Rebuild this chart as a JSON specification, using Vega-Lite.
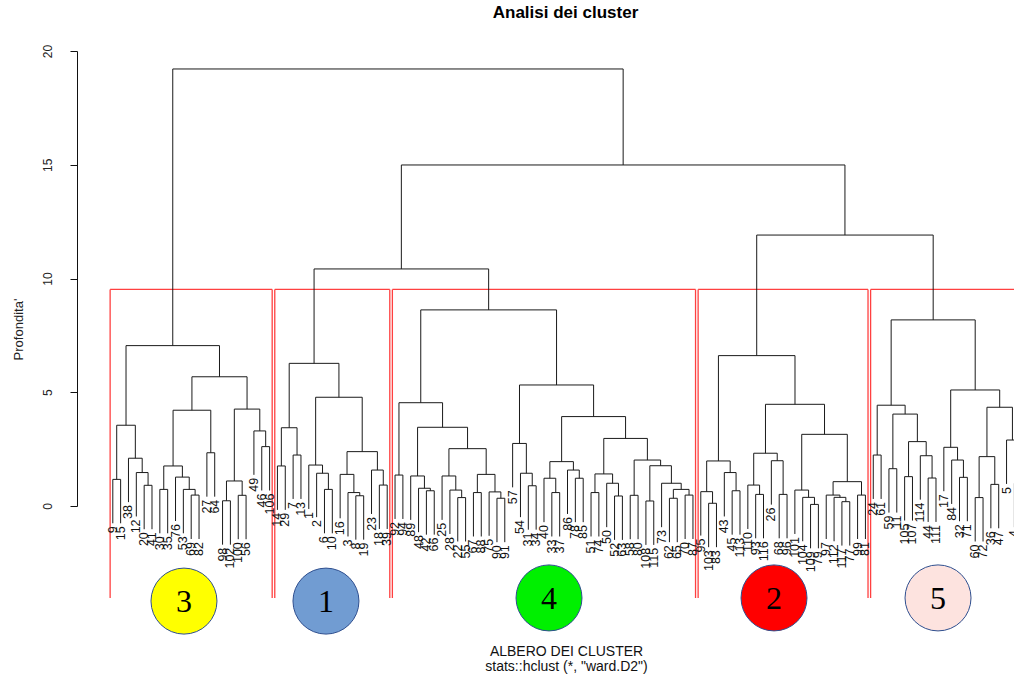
{
  "$schema": "https://vega.github.io/schema/vega-lite/v6.json",
  "width": 937,
  "height": 455,
  "autosize": {"type": "none"},
  "padding": {"left": 77, "top": 51, "right": 0, "bottom": 169},
  "background": "white",
  "title": {"text": "Analisi dei cluster", "font": "Liberation Sans", "fontSize": 17, "fontWeight": "bold", "color": "black", "anchor": "middle", "dx": 20, "offset": 22},
  "config": {
    "view": {"stroke": null},
    "axisX": {"domain": false, "ticks": false, "labels": false, "grid": false, "titleFont": "Liberation Sans", "titleFontSize": 14, "titleFontWeight": "normal", "titleColor": "#111", "titleX": 489, "titleY": 138, "titleBaseline": "top", "titleAlign": "center", "titleLineHeight": 15},
    "axisY": {"grid": false, "tickCount": 5, "domainColor": "#111", "tickColor": "#111", "tickSize": 7, "domainWidth": 1, "tickWidth": 1, "labelAngle": 270, "labelAlign": "center", "labelBaseline": "bottom", "labelPadding": 16, "labelFont": "Liberation Sans", "labelFontSize": 12, "labelColor": "#222", "labelFlush": false, "labelOverlap": false, "titleFont": "Liberation Sans", "titleFontSize": 13, "titleFontWeight": "normal", "titleColor": "#222", "titleAngle": 270, "titleX": -59, "titleY": 278, "titleAlign": "center", "titleBaseline": "middle"}
  },
  "datasets": {
    "merges": [
      {"lx":1,"lh":-0.76,"rx":2,"rh":-0.76,"h":1.17},
      {"lx":5,"lh":-1.02,"rx":6,"rh":-1.02,"h":0.91},
      {"lx":4,"lh":-0.46,"rx":5.5,"rh":0.91,"h":1.47},
      {"lx":3,"lh":0.17,"rx":4.75,"rh":1.47,"h":2.10},
      {"lx":1.5,"lh":1.17,"rx":3.875,"rh":2.10,"h":3.55},
      {"lx":7,"lh":-1.20,"rx":8,"rh":-1.20,"h":0.73},
      {"lx":11,"lh":-1.45,"rx":12,"rh":-1.45,"h":0.48},
      {"lx":10,"lh":-1.20,"rx":11.5,"rh":0.48,"h":0.73},
      {"lx":9,"lh":-0.66,"rx":10.75,"rh":0.73,"h":1.27},
      {"lx":7.5,"lh":0.73,"rx":9.875,"rh":1.27,"h":1.76},
      {"lx":13,"lh":0.41,"rx":14,"rh":0.41,"h":2.34},
      {"lx":8.6875,"lh":1.76,"rx":13.5,"rh":2.34,"h":4.21},
      {"lx":15,"lh":-1.70,"rx":16,"rh":-1.70,"h":0.23},
      {"lx":17,"lh":-1.46,"rx":18,"rh":-1.46,"h":0.47},
      {"lx":15.5,"lh":0.23,"rx":17.5,"rh":0.47,"h":1.10},
      {"lx":20,"lh":0.68,"rx":21,"rh":0.68,"h":2.61},
      {"lx":19,"lh":1.37,"rx":20.5,"rh":2.61,"h":3.30},
      {"lx":16.5,"lh":1.10,"rx":19.75,"rh":3.30,"h":4.26},
      {"lx":11.094,"lh":4.21,"rx":18.125,"rh":4.26,"h":5.68},
      {"lx":2.688,"lh":3.55,"rx":14.609,"rh":5.68,"h":7.05},
      {"lx":22,"lh":-0.17,"rx":23,"rh":-0.17,"h":1.76},
      {"lx":24,"lh":0.31,"rx":25,"rh":0.31,"h":2.24},
      {"lx":22.5,"lh":1.76,"rx":24.5,"rh":2.24,"h":3.44},
      {"lx":28,"lh":-1.20,"rx":29,"rh":-1.20,"h":0.73},
      {"lx":27,"lh":-0.49,"rx":28.5,"rh":0.73,"h":1.44},
      {"lx":26,"lh":-0.13,"rx":27.75,"rh":1.44,"h":1.80},
      {"lx":32,"lh":-1.48,"rx":33,"rh":-1.48,"h":0.45},
      {"lx":31,"lh":-1.34,"rx":32.5,"rh":0.45,"h":0.59},
      {"lx":30,"lh":-0.54,"rx":31.75,"rh":0.59,"h":1.39},
      {"lx":35,"lh":-1.01,"rx":36,"rh":-1.01,"h":0.92},
      {"lx":34,"lh":-0.35,"rx":35.5,"rh":0.92,"h":1.58},
      {"lx":30.875,"lh":1.39,"rx":34.75,"rh":1.58,"h":2.39},
      {"lx":26.875,"lh":1.80,"rx":32.813,"rh":2.39,"h":4.78},
      {"lx":23.5,"lh":3.44,"rx":29.844,"rh":4.78,"h":6.27},
      {"lx":37,"lh":-0.57,"rx":38,"rh":-0.57,"h":1.36},
      {"lx":41,"lh":-1.26,"rx":42,"rh":-1.26,"h":0.67},
      {"lx":40,"lh":-1.15,"rx":41.5,"rh":0.67,"h":0.78},
      {"lx":39,"lh":-0.61,"rx":40.75,"rh":0.78,"h":1.32},
      {"lx":45,"lh":-1.56,"rx":46,"rh":-1.56,"h":0.37},
      {"lx":44,"lh":-1.23,"rx":45.5,"rh":0.37,"h":0.70},
      {"lx":43,"lh":-0.61,"rx":44.75,"rh":0.70,"h":1.32},
      {"lx":47,"lh":-1.34,"rx":48,"rh":-1.34,"h":0.59},
      {"lx":50,"lh":-1.59,"rx":51,"rh":-1.59,"h":0.34},
      {"lx":49,"lh":-1.31,"rx":50.5,"rh":0.34,"h":0.62},
      {"lx":47.5,"lh":0.59,"rx":49.75,"rh":0.62,"h":1.39},
      {"lx":43.875,"lh":1.32,"rx":48.625,"rh":1.39,"h":2.52},
      {"lx":39.875,"lh":1.32,"rx":46.25,"rh":2.52,"h":3.46},
      {"lx":37.5,"lh":1.36,"rx":43.063,"rh":3.46,"h":4.54},
      {"lx":54,"lh":-1.04,"rx":55,"rh":-1.04,"h":0.89},
      {"lx":53,"lh":-0.49,"rx":54.5,"rh":0.89,"h":1.44},
      {"lx":52,"lh":0.82,"rx":53.75,"rh":1.44,"h":2.75},
      {"lx":57,"lh":-1.34,"rx":58,"rh":-1.34,"h":0.59},
      {"lx":56,"lh":-0.71,"rx":57.5,"rh":0.59,"h":1.22},
      {"lx":60,"lh":-0.71,"rx":61,"rh":-0.71,"h":1.22},
      {"lx":59,"lh":-0.35,"rx":60.5,"rh":1.22,"h":1.58},
      {"lx":56.75,"lh":1.22,"rx":59.75,"rh":1.58,"h":1.95},
      {"lx":62,"lh":-1.34,"rx":63,"rh":-1.34,"h":0.59},
      {"lx":65,"lh":-1.49,"rx":66,"rh":-1.49,"h":0.44},
      {"lx":64,"lh":-0.93,"rx":65.5,"rh":0.44,"h":1.00},
      {"lx":62.5,"lh":0.59,"rx":64.75,"rh":1.00,"h":1.41},
      {"lx":67,"lh":-1.46,"rx":68,"rh":-1.46,"h":0.47},
      {"lx":69,"lh":-1.71,"rx":70,"rh":-1.71,"h":0.22},
      {"lx":72,"lh":-1.59,"rx":73,"rh":-1.59,"h":0.34},
      {"lx":74,"lh":-1.45,"rx":75,"rh":-1.45,"h":0.48},
      {"lx":72.5,"lh":0.34,"rx":74.5,"rh":0.48,"h":0.73},
      {"lx":71,"lh":-0.93,"rx":73.5,"rh":0.73,"h":1.00},
      {"lx":69.5,"lh":0.22,"rx":72.25,"rh":1.00,"h":1.77},
      {"lx":67.5,"lh":0.47,"rx":70.875,"rh":1.77,"h":2.02},
      {"lx":63.625,"lh":1.41,"rx":69.188,"rh":2.02,"h":2.97},
      {"lx":58.25,"lh":1.95,"rx":66.406,"rh":2.97,"h":3.93},
      {"lx":52.875,"lh":2.75,"rx":62.328,"rh":3.93,"h":5.32},
      {"lx":40.281,"lh":4.54,"rx":57.602,"rh":5.32,"h":8.62},
      {"lx":77,"lh":-1.81,"rx":78,"rh":-1.81,"h":0.12},
      {"lx":76,"lh":-1.30,"rx":77.5,"rh":0.12,"h":0.63},
      {"lx":80,"lh":-1.26,"rx":81,"rh":-1.26,"h":0.67},
      {"lx":79,"lh":-0.46,"rx":80.5,"rh":0.67,"h":1.47},
      {"lx":76.75,"lh":0.63,"rx":79.75,"rh":1.47,"h":1.98},
      {"lx":83,"lh":-1.42,"rx":84,"rh":-1.42,"h":0.51},
      {"lx":82,"lh":-1.01,"rx":83.5,"rh":0.51,"h":0.92},
      {"lx":86,"lh":-1.42,"rx":87,"rh":-1.42,"h":0.51},
      {"lx":85,"lh":0.06,"rx":86.5,"rh":0.51,"h":1.99},
      {"lx":82.75,"lh":0.92,"rx":85.75,"rh":1.99,"h":2.32},
      {"lx":90,"lh":-1.86,"rx":91,"rh":-1.86,"h":0.07},
      {"lx":89,"lh":-1.55,"rx":90.5,"rh":0.07,"h":0.38},
      {"lx":88,"lh":-1.23,"rx":89.75,"rh":0.38,"h":0.70},
      {"lx":94,"lh":-1.74,"rx":95,"rh":-1.74,"h":0.19},
      {"lx":93,"lh":-1.55,"rx":94.5,"rh":0.19,"h":0.38},
      {"lx":92,"lh":-1.45,"rx":93.75,"rh":0.38,"h":0.48},
      {"lx":96,"lh":-1.45,"rx":97,"rh":-1.45,"h":0.48},
      {"lx":92.875,"lh":0.48,"rx":96.5,"rh":0.48,"h":1.07},
      {"lx":88.875,"lh":0.70,"rx":94.688,"rh":1.07,"h":3.15},
      {"lx":84.25,"lh":2.32,"rx":91.781,"rh":3.15,"h":4.47},
      {"lx":78.25,"lh":1.98,"rx":88.016,"rh":4.47,"h":6.61},
      {"lx":98,"lh":0.31,"rx":99,"rh":0.31,"h":2.24},
      {"lx":100,"lh":-0.29,"rx":101,"rh":-0.29,"h":1.64},
      {"lx":102,"lh":-0.64,"rx":103,"rh":-0.64,"h":1.29},
      {"lx":105,"lh":-0.70,"rx":106,"rh":-0.70,"h":1.23},
      {"lx":104,"lh":0.28,"rx":105.5,"rh":1.23,"h":2.21},
      {"lx":102.5,"lh":1.29,"rx":104.75,"rh":2.21,"h":2.83},
      {"lx":100.5,"lh":1.64,"rx":103.625,"rh":2.83,"h":4.04},
      {"lx":98.5,"lh":2.24,"rx":102.063,"rh":4.04,"h":4.43},
      {"lx":109,"lh":-0.67,"rx":110,"rh":-0.67,"h":1.26},
      {"lx":108,"lh":0.09,"rx":109.5,"rh":1.26,"h":2.02},
      {"lx":107,"lh":0.65,"rx":108.75,"rh":2.02,"h":2.58},
      {"lx":111,"lh":-1.56,"rx":112,"rh":-1.56,"h":0.37},
      {"lx":113,"lh":-0.98,"rx":114,"rh":-0.98,"h":0.95},
      {"lx":111.5,"lh":0.37,"rx":113.5,"rh":0.95,"h":2.17},
      {"lx":116,"lh":-0.93,"rx":117,"rh":-0.93,"h":1.00},
      {"lx":115,"lh":0.97,"rx":116.5,"rh":1.00,"h":2.90},
      {"lx":112.5,"lh":2.17,"rx":115.75,"rh":2.90,"h":4.34},
      {"lx":107.875,"lh":2.58,"rx":114.125,"rh":4.34,"h":5.10},
      {"lx":100.281,"lh":4.43,"rx":111.0,"rh":5.10,"h":8.18},
      {"lx":26.672,"lh":6.27,"rx":48.941,"rh":8.62,"h":10.42},
      {"lx":83.133,"lh":6.61,"rx":105.641,"rh":8.18,"h":11.91},
      {"lx":37.806,"lh":10.42,"rx":94.387,"rh":11.91,"h":14.99},
      {"lx":8.648,"lh":7.05,"rx":66.097,"rh":14.99,"h":19.21}
    ],
    "leaves": [
      {"i":1,"label":"9","b":-0.76},{"i":2,"label":"15","b":-0.76},{"i":3,"label":"38","b":0.17},{"i":4,"label":"12","b":-0.46},
      {"i":5,"label":"20","b":-1.02},{"i":6,"label":"41","b":-1.02},{"i":7,"label":"30","b":-1.20},{"i":8,"label":"35","b":-1.20},
      {"i":9,"label":"76","b":-0.66},{"i":10,"label":"53","b":-1.20},{"i":11,"label":"69","b":-1.45},{"i":12,"label":"82","b":-1.45},
      {"i":13,"label":"27","b":0.41},{"i":14,"label":"64","b":0.41},{"i":15,"label":"98","b":-1.70},{"i":16,"label":"102","b":-1.70},
      {"i":17,"label":"100","b":-1.46},{"i":18,"label":"56","b":-1.46},{"i":19,"label":"49","b":1.37},{"i":20,"label":"46","b":0.68},
      {"i":21,"label":"106","b":0.68},
      {"i":22,"label":"14","b":-0.17},{"i":23,"label":"29","b":-0.17},{"i":24,"label":"7","b":0.31},{"i":25,"label":"13","b":0.31},
      {"i":26,"label":"1","b":-0.13},{"i":27,"label":"2","b":-0.49},{"i":28,"label":"6","b":-1.20},{"i":29,"label":"10","b":-1.20},
      {"i":30,"label":"16","b":-0.54},{"i":31,"label":"3","b":-1.34},{"i":32,"label":"8","b":-1.48},{"i":33,"label":"19","b":-1.48},
      {"i":34,"label":"23","b":-0.35},{"i":35,"label":"18","b":-1.01},{"i":36,"label":"39","b":-1.01},
      {"i":37,"label":"92","b":-0.57},{"i":38,"label":"94","b":-0.57},{"i":39,"label":"89","b":-0.61},{"i":40,"label":"48","b":-1.15},
      {"i":41,"label":"42","b":-1.26},{"i":42,"label":"66","b":-1.26},{"i":43,"label":"25","b":-0.61},{"i":44,"label":"28","b":-1.23},
      {"i":45,"label":"22","b":-1.56},{"i":46,"label":"55","b":-1.56},{"i":47,"label":"67","b":-1.34},{"i":48,"label":"88","b":-1.34},
      {"i":49,"label":"75","b":-1.31},{"i":50,"label":"90","b":-1.59},{"i":51,"label":"91","b":-1.59},{"i":52,"label":"57","b":0.82},
      {"i":53,"label":"54","b":-0.49},{"i":54,"label":"31","b":-1.04},{"i":55,"label":"34","b":-1.04},{"i":56,"label":"40","b":-0.71},
      {"i":57,"label":"33","b":-1.34},{"i":58,"label":"37","b":-1.34},{"i":59,"label":"86","b":-0.35},{"i":60,"label":"78","b":-0.71},
      {"i":61,"label":"85","b":-0.71},{"i":62,"label":"51","b":-1.34},{"i":63,"label":"74","b":-1.34},{"i":64,"label":"50","b":-0.93},
      {"i":65,"label":"52","b":-1.49},{"i":66,"label":"63","b":-1.49},{"i":67,"label":"58","b":-1.46},{"i":68,"label":"80","b":-1.46},
      {"i":69,"label":"108","b":-1.71},{"i":70,"label":"115","b":-1.71},{"i":71,"label":"73","b":-0.93},{"i":72,"label":"62","b":-1.59},
      {"i":73,"label":"65","b":-1.59},{"i":74,"label":"70","b":-1.45},{"i":75,"label":"87","b":-1.45},
      {"i":76,"label":"95","b":-1.30},{"i":77,"label":"103","b":-1.81},{"i":78,"label":"83","b":-1.81},{"i":79,"label":"43","b":-0.46},
      {"i":80,"label":"45","b":-1.26},{"i":81,"label":"113","b":-1.26},{"i":82,"label":"110","b":-1.01},{"i":83,"label":"93","b":-1.42},
      {"i":84,"label":"116","b":-1.42},{"i":85,"label":"26","b":0.06},{"i":86,"label":"68","b":-1.42},{"i":87,"label":"96","b":-1.42},
      {"i":88,"label":"101","b":-1.23},{"i":89,"label":"104","b":-1.55},{"i":90,"label":"109","b":-1.86},{"i":91,"label":"79","b":-1.86},
      {"i":92,"label":"97","b":-1.45},{"i":93,"label":"112","b":-1.55},{"i":94,"label":"117","b":-1.74},{"i":95,"label":"77","b":-1.74},
      {"i":96,"label":"99","b":-1.45},{"i":97,"label":"81","b":-1.45},
      {"i":98,"label":"24","b":0.31},{"i":99,"label":"61","b":0.31},{"i":100,"label":"59","b":-0.29},{"i":101,"label":"11","b":-0.29},
      {"i":102,"label":"105","b":-0.64},{"i":103,"label":"107","b":-0.64},{"i":104,"label":"114","b":0.28},{"i":105,"label":"44","b":-0.70},
      {"i":106,"label":"111","b":-0.70},{"i":107,"label":"17","b":0.65},{"i":108,"label":"84","b":0.09},{"i":109,"label":"32","b":-0.67},
      {"i":110,"label":"71","b":-0.67},{"i":111,"label":"60","b":-1.56},{"i":112,"label":"72","b":-1.56},{"i":113,"label":"36","b":-0.98},
      {"i":114,"label":"47","b":-0.98},{"i":115,"label":"5","b":0.97},{"i":116,"label":"4","b":-0.93},{"i":117,"label":"21","b":-0.93}
    ],
    "clusters": [
      {"cluster":"3","x1":0.66,"x2":21.33,"top":9.52,"bottom":-4.04,"cx":10.08,"cy":-4.18},
      {"cluster":"1","x1":21.66,"x2":36.33,"top":9.52,"bottom":-4.04,"cx":28.19,"cy":-4.18},
      {"cluster":"4","x1":36.66,"x2":75.33,"top":9.52,"bottom":-4.04,"cx":56.64,"cy":-4.04},
      {"cluster":"2","x1":75.66,"x2":97.33,"top":9.52,"bottom":-4.04,"cx":85.34,"cy":-4.04},
      {"cluster":"5","x1":97.66,"x2":117.33,"top":9.52,"bottom":-4.04,"cx":106.26,"cy":-4.04}
    ]
  },
  "layer": [
    {
      "data": {"name": "clusters"},
      "mark": {"type": "rule", "color": "#ff4040", "strokeWidth": 1.3},
      "encoding": {
        "x": {"field": "x1", "type": "quantitative", "scale": {"domain": [-3.566, 115.95], "nice": false, "zero": false}, "title": ["ALBERO DEI CLUSTER", "stats::hclust (*, \"ward.D2\")"]},
        "y": {"field": "bottom", "type": "quantitative", "scale": {"domain": [0, 20], "nice": false, "zero": false}, "title": "Profondita'"},
        "y2": {"field": "top"}
      }
    },
    {
      "data": {"name": "clusters"},
      "mark": {"type": "rule", "color": "#ff4040", "strokeWidth": 1.3},
      "encoding": {
        "x": {"field": "x2", "type": "quantitative", "scale": {"domain": [-3.566, 115.95], "nice": false, "zero": false}, "title": ["ALBERO DEI CLUSTER", "stats::hclust (*, \"ward.D2\")"]},
        "y": {"field": "bottom", "type": "quantitative", "scale": {"domain": [0, 20], "nice": false, "zero": false}, "title": "Profondita'"},
        "y2": {"field": "top"}
      }
    },
    {
      "data": {"name": "clusters"},
      "mark": {"type": "rule", "color": "#ff4040", "strokeWidth": 1.3},
      "encoding": {
        "x": {"field": "x1", "type": "quantitative", "scale": {"domain": [-3.566, 115.95], "nice": false, "zero": false}, "title": ["ALBERO DEI CLUSTER", "stats::hclust (*, \"ward.D2\")"]},
        "x2": {"field": "x2"},
        "y": {"field": "top", "type": "quantitative", "scale": {"domain": [0, 20], "nice": false, "zero": false}, "title": "Profondita'"}
      }
    },
    {
      "data": {"name": "merges"},
      "mark": {"type": "rule", "color": "#1a1a1a", "strokeWidth": 1},
      "encoding": {
        "x": {"field": "lx", "type": "quantitative", "scale": {"domain": [-3.566, 115.95], "nice": false, "zero": false}, "title": ["ALBERO DEI CLUSTER", "stats::hclust (*, \"ward.D2\")"]},
        "x2": {"field": "rx"},
        "y": {"field": "h", "type": "quantitative", "scale": {"domain": [0, 20], "nice": false, "zero": false}, "title": "Profondita'"}
      }
    },
    {
      "data": {"name": "merges"},
      "mark": {"type": "rule", "color": "#1a1a1a", "strokeWidth": 1},
      "encoding": {
        "x": {"field": "lx", "type": "quantitative", "scale": {"domain": [-3.566, 115.95], "nice": false, "zero": false}, "title": ["ALBERO DEI CLUSTER", "stats::hclust (*, \"ward.D2\")"]},
        "y": {"field": "lh", "type": "quantitative", "scale": {"domain": [0, 20], "nice": false, "zero": false}, "title": "Profondita'"},
        "y2": {"field": "h"}
      }
    },
    {
      "data": {"name": "merges"},
      "mark": {"type": "rule", "color": "#1a1a1a", "strokeWidth": 1},
      "encoding": {
        "x": {"field": "rx", "type": "quantitative", "scale": {"domain": [-3.566, 115.95], "nice": false, "zero": false}, "title": ["ALBERO DEI CLUSTER", "stats::hclust (*, \"ward.D2\")"]},
        "y": {"field": "rh", "type": "quantitative", "scale": {"domain": [0, 20], "nice": false, "zero": false}, "title": "Profondita'"},
        "y2": {"field": "h"}
      }
    },
    {
      "data": {"name": "leaves"},
      "mark": {"type": "text", "angle": 270, "align": "right", "baseline": "middle", "dx": -3, "font": "Liberation Sans", "fontSize": 12.5, "color": "#111"},
      "encoding": {
        "x": {"field": "i", "type": "quantitative", "scale": {"domain": [-3.566, 115.95], "nice": false, "zero": false}, "title": ["ALBERO DEI CLUSTER", "stats::hclust (*, \"ward.D2\")"]},
        "y": {"field": "b", "type": "quantitative", "scale": {"domain": [0, 20], "nice": false, "zero": false}, "title": "Profondita'"},
        "text": {"field": "label"}
      }
    },
    {
      "data": {"name": "clusters"},
      "mark": {"type": "point", "shape": "circle", "filled": true, "size": 4356, "opacity": 1, "stroke": "#2f4f8f", "strokeWidth": 1},
      "encoding": {
        "x": {"field": "cx", "type": "quantitative", "scale": {"domain": [-3.566, 115.95], "nice": false, "zero": false}, "title": ["ALBERO DEI CLUSTER", "stats::hclust (*, \"ward.D2\")"]},
        "y": {"field": "cy", "type": "quantitative", "scale": {"domain": [0, 20], "nice": false, "zero": false}, "title": "Profondita'"},
        "fill": {"field": "cluster", "type": "nominal", "scale": {"domain": ["1", "2", "3", "4", "5"], "range": ["#719cd2", "#ff0000", "#ffff00", "#00f000", "#fde3df"]}, "legend": null}
      }
    },
    {
      "data": {"name": "clusters"},
      "mark": {"type": "text", "align": "center", "baseline": "middle", "font": "Liberation Serif", "fontSize": 32, "color": "black", "dy": 1},
      "encoding": {
        "x": {"field": "cx", "type": "quantitative", "scale": {"domain": [-3.566, 115.95], "nice": false, "zero": false}, "title": ["ALBERO DEI CLUSTER", "stats::hclust (*, \"ward.D2\")"]},
        "y": {"field": "cy", "type": "quantitative", "scale": {"domain": [0, 20], "nice": false, "zero": false}, "title": "Profondita'"},
        "text": {"field": "cluster"}
      }
    }
  ]
}
